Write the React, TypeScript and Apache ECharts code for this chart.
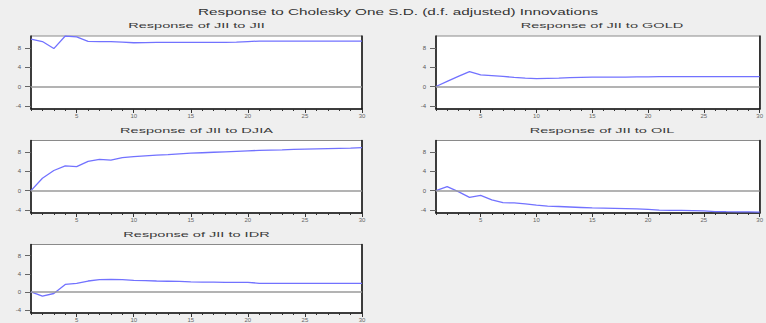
import React, { useEffect, useRef } from "react";
import * as echarts from "echarts";

const mainTitle = "Response to Cholesky One S.D. (d.f. adjusted) Innovations";
const panelTitles = [
  "Response of JII to JII",
  "Response of JII to GOLD",
  "Response of JII to DJIA",
  "Response of JII to OIL",
  "Response of JII to IDR",
];

const periods = [1, 2, 3, 4, 5, 6, 7, 8, 9, 10, 11, 12, 13, 14, 15, 16, 17, 18, 19, 20, 21, 22, 23, 24, 25, 26, 27, 28, 29, 30];
const xTickLabels = [5, 10, 15, 20, 25, 30];
const yTickLabels = [-4, 0, 4, 8];

const jiiToJii = [9.8, 9.3, 7.85, 10.45, 10.25, 9.35, 9.3, 9.3, 9.2, 9.05, 9.1, 9.15, 9.15, 9.15, 9.15, 9.15, 9.15, 9.15, 9.2, 9.3, 9.4, 9.4, 9.4, 9.4, 9.4, 9.4, 9.4, 9.4, 9.4, 9.4];
const jiiToGold = [0, 1.05, 2.1, 3.1, 2.4, 2.25, 2.1, 1.9, 1.75, 1.65, 1.7, 1.75, 1.85, 1.9, 1.95, 1.95, 1.95, 1.95, 2.0, 2.0, 2.05, 2.05, 2.05, 2.05, 2.05, 2.05, 2.05, 2.05, 2.05, 2.05];
const jiiToDjia = [0, 2.6, 4.2, 5.15, 5.0, 6.1, 6.5, 6.35, 6.9, 7.1, 7.25, 7.4, 7.5, 7.65, 7.8, 7.9, 8.0, 8.1, 8.2, 8.3, 8.4, 8.45, 8.5, 8.6, 8.65, 8.7, 8.75, 8.8, 8.85, 8.95];
const jiiToOil = [0, 0.85, -0.2, -1.4, -1.0, -1.9, -2.5, -2.55, -2.75, -3.0, -3.2, -3.3, -3.4, -3.5, -3.6, -3.65, -3.7, -3.75, -3.8, -3.9, -4.05, -4.1, -4.12, -4.15, -4.2, -4.35, -4.38, -4.4, -4.42, -4.45];
const jiiToIdr = [0, -0.95, -0.35, 1.65, 1.9, 2.4, 2.7, 2.75, 2.7, 2.55, 2.5, 2.4, 2.35, 2.3, 2.2, 2.15, 2.15, 2.1, 2.1, 2.1, 1.9, 1.9, 1.9, 1.9, 1.9, 1.9, 1.9, 1.9, 1.9, 1.9];

const panelSeries = [jiiToJii, jiiToGold, jiiToDjia, jiiToOil, jiiToIdr];

const Y_MIN = -4.65;
const Y_MAX = 10.45;

const layouts = [
  { left: 31, top: 36, width: 331, height: 73 },
  { left: 436, top: 36, width: 332, height: 73 },
  { left: 31, top: 140.5, width: 331, height: 72.5 },
  { left: 436, top: 140.5, width: 332, height: 72.5 },
  { left: 31, top: 244.5, width: 331, height: 72.5 },
];

const FONT = '"Liberation Sans", Arial, sans-serif';
const LINE_COLOR = "#7272ff";

export default function App() {
  const ref = useRef<HTMLDivElement>(null);

  useEffect(() => {
    if (!ref.current) return;
    const chart = echarts.init(ref.current, undefined, { renderer: "svg" });

    const grids: any[] = [];
    const xAxes: any[] = [];
    const yAxes: any[] = [];
    const series: any[] = [];
    const graphics: any[] = [];

    layouts.forEach((l, i) => {
      grids.push({
        left: l.left,
        top: l.top,
        width: l.width,
        height: l.height,
        show: true,
        backgroundColor: "#ffffff",
        borderColor: "#8a8a8a",
        borderWidth: 1,
        containLabel: false,
      });
      xAxes.push({
        type: "value",
        gridIndex: i,
        min: 1,
        max: 30,
        position: "bottom",
        axisLine: { show: true, onZero: false, lineStyle: { color: "#111", width: 1.5 } },
        axisTick: { show: true, customValues: periods, length: 2, lineStyle: { color: "#333" } },
        axisLabel: { show: false },
        splitLine: { show: false },
      });
      xAxes.push({
        type: "value",
        gridIndex: i,
        min: 1,
        max: 30,
        position: "bottom",
        axisLine: { show: false, onZero: false },
        axisTick: { show: true, customValues: xTickLabels, length: 4, lineStyle: { color: "#333" } },
        axisLabel: {
          show: true,
          customValues: xTickLabels,
          fontSize: 6,
          fontFamily: FONT,
          color: "#666",
          margin: 4,
        },
        splitLine: { show: false },
      });
      yAxes.push({
        type: "value",
        gridIndex: i,
        min: Y_MIN,
        max: Y_MAX,
        position: "left",
        axisLine: { show: true, onZero: false, lineStyle: { color: "#111", width: 1.5 } },
        axisTick: { show: true, customValues: yTickLabels, length: 6, lineStyle: { color: "#666" } },
        axisLabel: {
          show: true,
          customValues: yTickLabels,
          fontSize: 6,
          fontFamily: FONT,
          color: "#555",
          margin: 10,
        },
        splitLine: { show: false },
      });
      yAxes.push({
        type: "value",
        gridIndex: i,
        min: Y_MIN,
        max: Y_MAX,
        position: "right",
        axisLine: { show: true, onZero: false, lineStyle: { color: "#111", width: 1.5 } },
        axisTick: { show: false },
        axisLabel: { show: false },
        splitLine: { show: false },
      });
      series.push({
        type: "line",
        xAxisIndex: 2 * i,
        yAxisIndex: 2 * i,
        data: periods.map((p, k) => [p, panelSeries[i][k]]),
        showSymbol: false,
        symbol: "none",
        clip: true,
        lineStyle: { color: LINE_COLOR, width: 1.3 },
        markLine: {
          silent: true,
          symbol: "none",
          label: { show: false },
          lineStyle: { color: "#9a9a9a", width: 1.5, type: "solid" },
          data: [{ yAxis: 0 }],
        },
        z: 3,
      });
      graphics.push({
        type: "text",
        x: l.left + l.width / 2,
        y: l.top - 10.7,
        scaleX: 1.82,
        style: {
          text: panelTitles[i],
          font: `8px ${FONT}`,
          fill: "#3a3a3a",
          align: "center",
          verticalAlign: "middle",
        },
      });
    });

    graphics.push({
      type: "text",
      x: 398,
      y: 12.7,
      scaleX: 1.8,
      style: {
        text: mainTitle,
        font: `8.5px ${FONT}`,
        fill: "#333",
        align: "center",
        verticalAlign: "middle",
      },
    });

    chart.setOption({
      animation: false,
      backgroundColor: "#efefef",
      grid: grids,
      xAxis: xAxes,
      yAxis: yAxes,
      series,
      graphic: graphics,
    });

    return () => chart.dispose();
  }, []);

  return (
    <div
      ref={ref}
      style={{ position: "fixed", left: 0, top: 0, width: 766, height: 323, background: "#efefef" }}
    />
  );
}
